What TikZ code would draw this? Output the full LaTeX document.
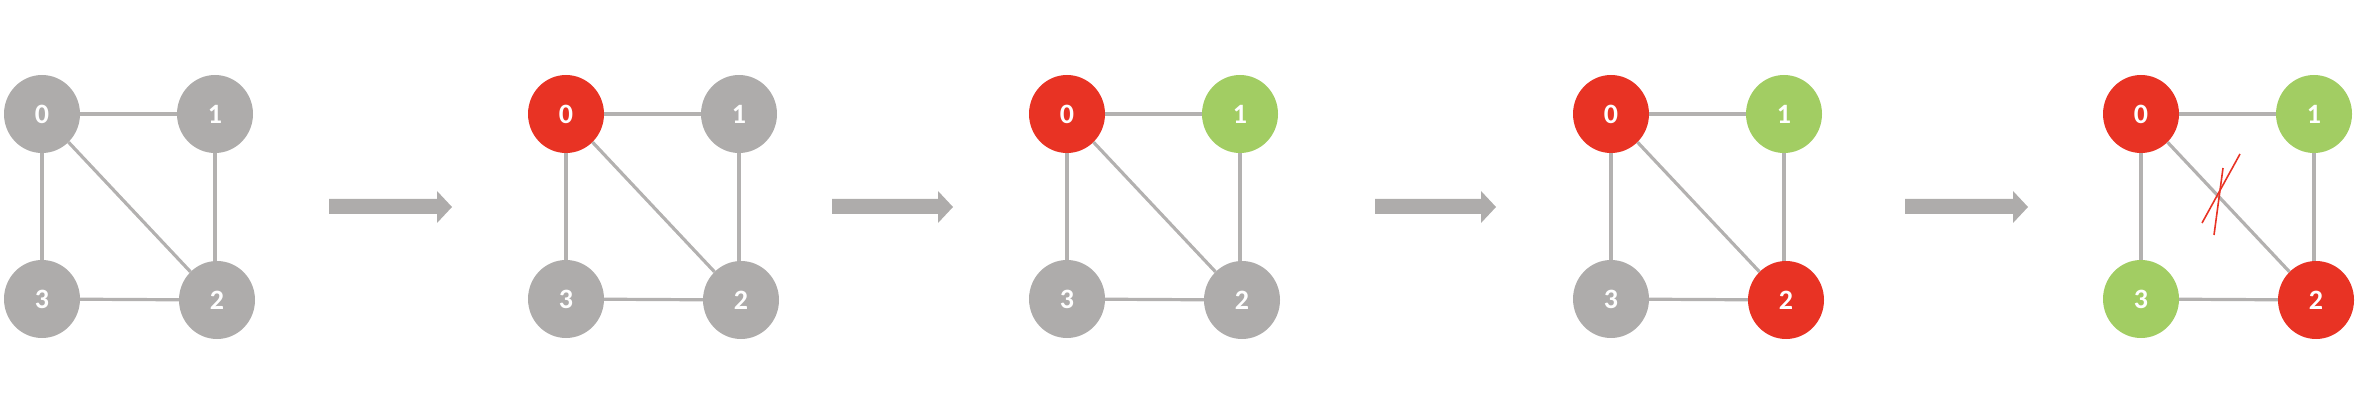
\documentclass[tikz,border=0pt]{standalone}
\usepackage{fontspec}
\setmainfont{Carlito}
\usetikzlibrary{shapes.geometric}
\definecolor{ngray}{HTML}{AEACAB}
\definecolor{nred}{HTML}{E83324}
\definecolor{ngreen}{HTML}{A2CD63}
\definecolor{egray}{HTML}{B3B1B0}
\tikzset{
  vtx/.style={ellipse, minimum width=76pt, minimum height=78pt, inner sep=0pt, fill=#1, text=white, font=\fontsize{28}{28}\selectfont\bfseries},
  edg/.style={draw=egray, line width=3.2pt},
  blockarrow/.style={fill=ngray},
  crossmark/.style={draw=nred, line width=1.6pt}
}
\newcommand{\drawgraph}[6]{%
  \node[vtx=#3] (#1-0) at (#2,114) {0};
  \node[vtx=#4] (#1-1) at (#2+173,114) {1};
  \node[vtx=#5] (#1-2) at (#2+175,300) {2};
  \node[vtx=#6] (#1-3) at (#2,299) {3};
  \draw[edg] (#1-0) -- (#1-1);
  \draw[edg] (#1-0) -- (#1-3);
  \draw[edg] (#1-1.south) -- (#1-1.south |- #1-2.north);
  \draw[edg] (#1-3) -- (#1-2);
  \draw[edg] (#1-0) -- (#1-2);
}
\newcommand{\blockarr}[2]{%
  \fill[blockarrow] (#1,199) -- (#2-15,199) -- (#2-15,191) -- (#2,207) -- (#2-15,223) -- (#2-15,214) -- (#1,214) -- cycle;
}
\begin{document}
\begin{tikzpicture}[x=1pt,y=-1pt]
\useasboundingbox (0,0) rectangle (2370,414);
\drawgraph{a}{42}{ngray}{ngray}{ngray}{ngray}
\drawgraph{b}{566}{nred}{ngray}{ngray}{ngray}
\drawgraph{c}{1067}{nred}{ngreen}{ngray}{ngray}
\drawgraph{d}{1611}{nred}{ngreen}{nred}{ngray}
\drawgraph{e}{2141}{nred}{ngreen}{nred}{ngreen}
\blockarr{329}{452}
\blockarr{832}{953}
\blockarr{1375}{1496}
\blockarr{1905}{2028}
\coordinate (x1a) at (2202,223);
\coordinate (x1b) at (2240,154);
\coordinate (x2a) at (2223,168);
\coordinate (x2b) at (2214,235);
\draw[crossmark] (x1a) -- (x1b);
\draw[crossmark] (x2a) -- (x2b);
\end{tikzpicture}
\end{document}
